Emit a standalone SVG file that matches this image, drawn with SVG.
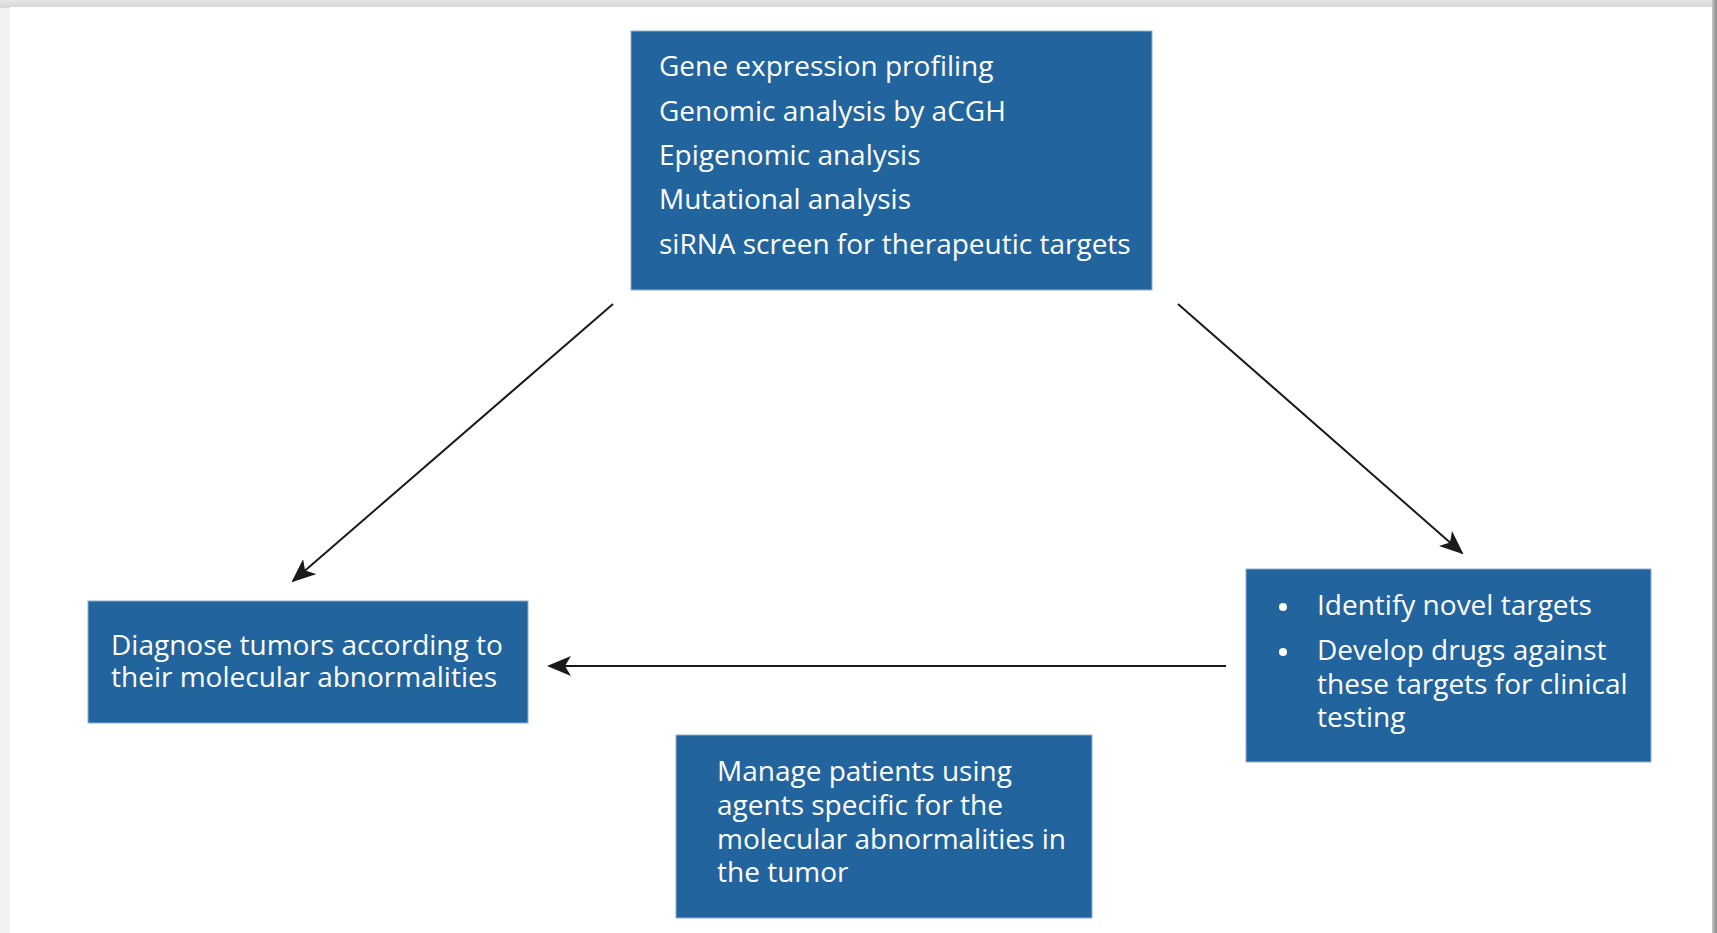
<svg xmlns="http://www.w3.org/2000/svg" width="1717" height="933" viewBox="0 0 1717 933">
<defs>
<linearGradient id="gl" x1="0" x2="1" y1="0" y2="0"><stop offset="0" stop-color="#f2f2f2"/><stop offset="1" stop-color="#e2e2e2"/></linearGradient>
<linearGradient id="gt" x1="0" x2="0" y1="0" y2="1"><stop offset="0" stop-color="#e6e6e6"/><stop offset="1" stop-color="#d6d6d6"/></linearGradient>
<linearGradient id="gr" x1="0" x2="1" y1="0" y2="0"><stop offset="0" stop-color="#c8c8c8"/><stop offset="1" stop-color="#8a8a8a"/></linearGradient>
<marker id="ah" viewBox="0 0 24 20" refX="22" refY="10" markerWidth="24" markerHeight="20" markerUnits="userSpaceOnUse" orient="auto">
<path d="M0,0 L24,10 L0,20 L6,10 Z" fill="#1a1a1a"/>
</marker>
<style>
.box{fill:#22649e;stroke:#8fb0d0;stroke-width:1}
.t{font-family:"Open Sans","Noto Sans","Liberation Sans",sans-serif;font-size:28px;font-weight:500;fill:#ffffff}
.c{stroke:#1a1a1a;stroke-width:2;fill:none;marker-end:url(#ah)}
</style>
</defs>
<rect x="0" y="0" width="1717" height="933" fill="url(#gl)"/>
<rect x="0" y="0" width="1717" height="8" fill="url(#gt)"/>
<rect x="1712" y="0" width="5" height="933" fill="url(#gr)"/>
<rect x="10" y="7" width="1702" height="926" fill="#ffffff"/>

<g id="connectors">
<line class="c" x1="613" y1="304" x2="293" y2="581"/>
<line class="c" x1="1178" y1="304" x2="1462" y2="553"/>
<line class="c" x1="1226" y1="666" x2="549" y2="666"/>
</g>

<g id="node-top">
<rect class="box" x="631" y="31" width="521" height="259"/>
<text class="t" x="659" y="76">Gene expression profiling</text>
<text class="t" x="659" y="121">Genomic analysis by aCGH</text>
<text class="t" x="659" y="165">Epigenomic analysis</text>
<text class="t" x="659" y="209">Mutational analysis</text>
<text class="t" x="659" y="254">siRNA screen for therapeutic targets</text>
</g>

<g id="node-diagnose">
<rect class="box" x="88" y="601" width="440" height="122"/>
<text class="t" x="111" y="655">Diagnose tumors according to</text>
<text class="t" x="111" y="687">their molecular abnormalities</text>
</g>

<g id="node-targets">
<rect class="box" x="1246" y="569" width="405" height="193"/>
<circle cx="1283" cy="607" r="4" fill="#ffffff"/>
<circle cx="1283" cy="652" r="4" fill="#ffffff"/>
<text class="t" x="1317" y="615">Identify novel targets</text>
<text class="t" x="1317" y="660">Develop drugs against</text>
<text class="t" x="1317" y="694">these targets for clinical</text>
<text class="t" x="1317" y="727">testing</text>
</g>

<g id="node-manage">
<rect class="box" x="676" y="735" width="416" height="183"/>
<text class="t" x="717" y="781">Manage patients using</text>
<text class="t" x="717" y="815">agents specific for the</text>
<text class="t" x="717" y="849">molecular abnormalities in</text>
<text class="t" x="717" y="882">the tumor</text>
</g>
</svg>
